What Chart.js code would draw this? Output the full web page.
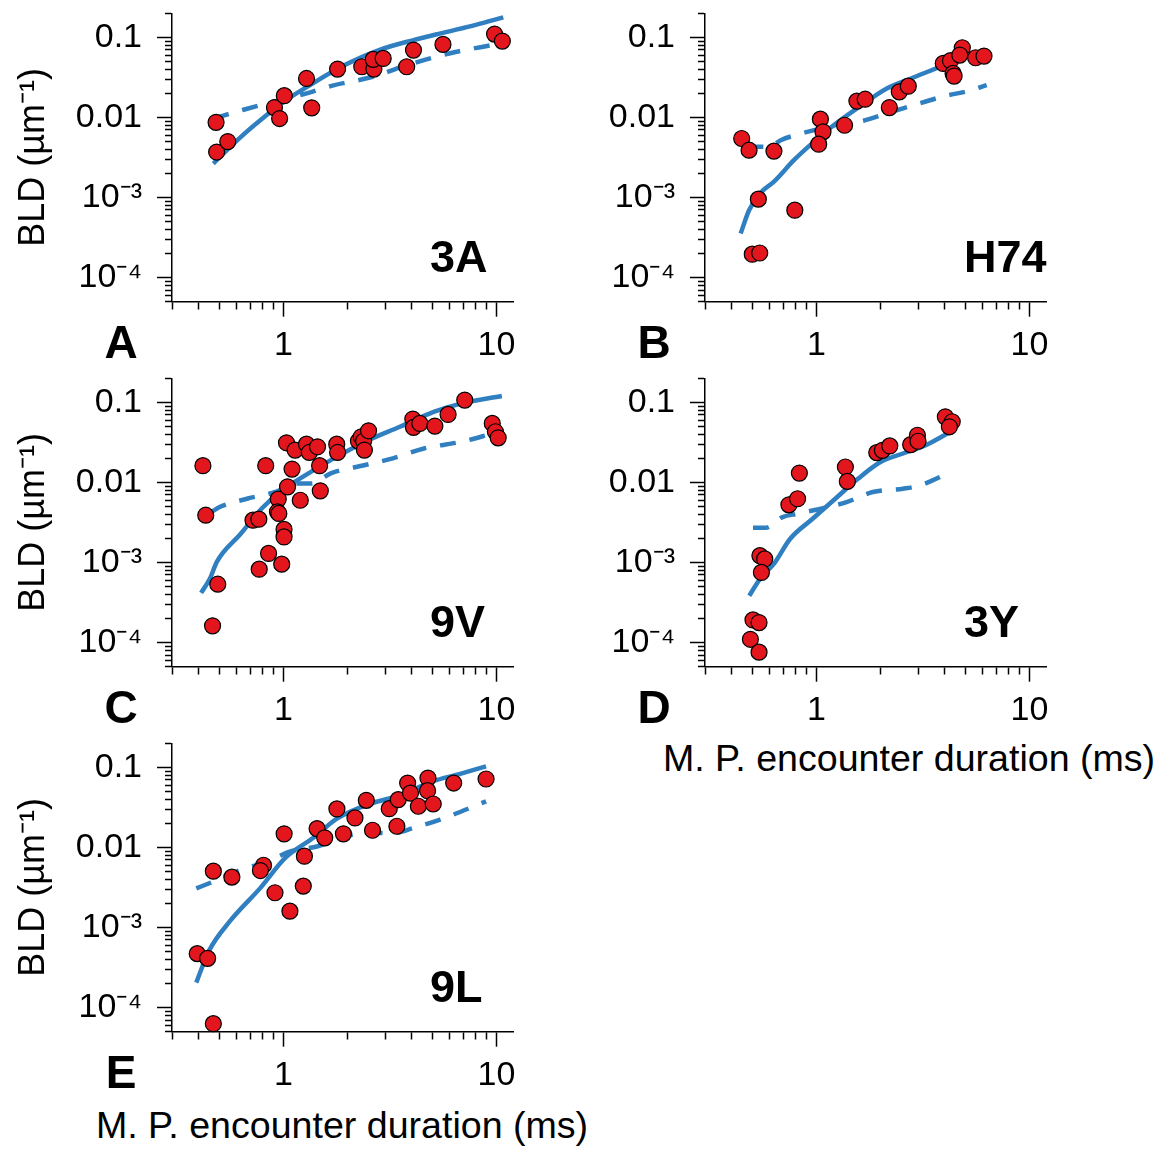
<!DOCTYPE html>
<html>
<head>
<meta charset="utf-8">
<script src="https://cdn.jsdelivr.net/npm/chart.js@4.4.1/dist/chart.umd.min.js"></script>
<style>
  body { margin: 0; background: #fff; }
  #page {
    position: relative; width: 1169px; height: 1156px; overflow: hidden; background: #fff;
    font-family: "Liberation Sans", Arial, sans-serif; color: #000;
  }
  #page canvas { position: absolute; }
  .txt { position: absolute; white-space: nowrap; }
</style>
</head>
<body>
<div id="page">
  <canvas id="chartA" width="540" height="365" style="left:0px;top:0px"></canvas>
  <canvas id="chartB" width="540" height="365" style="left:533px;top:0px"></canvas>
  <canvas id="chartC" width="540" height="365" style="left:0px;top:365px"></canvas>
  <canvas id="chartD" width="540" height="365" style="left:533px;top:365px"></canvas>
  <canvas id="chartE" width="540" height="365" style="left:0px;top:730px"></canvas>
</div>
<script>
/* ================================
   DATA
   dur = M. P. encounter duration (ms), bld = BLD (1/um)
================================ */

// 3A
const A_DUR = [0.483, 0.486, 0.548, 0.908, 0.96, 1.01, 1.284, 1.358, 1.796, 2.333, 2.66, 2.64, 2.94, 3.79, 4.08, 5.61, 9.8, 10.66];
const A_BLD = [0.0087, 0.0037, 0.0050, 0.0133, 0.0097, 0.0187, 0.0307, 0.0132, 0.0402, 0.043, 0.0402, 0.0531, 0.0546, 0.043, 0.0695, 0.0818, 0.110, 0.090];
const A_FIT_DUR = [0.469, 0.632, 0.852, 1.03, 1.333, 1.94, 2.81, 4.08, 5.93, 8.0, 10.77];
const A_FIT_BLD = [0.00266, 0.00573, 0.0112, 0.0165, 0.0254, 0.0451, 0.0695, 0.0926, 0.118, 0.1436, 0.178];
const A_ALT_DUR = [0.469, 0.65, 0.9, 1.24, 1.7, 2.6, 3.8, 6.0, 10.2];
const A_ALT_BLD = [0.0097, 0.0125, 0.0157, 0.0195, 0.025, 0.032, 0.045, 0.063, 0.083];

// H74
const B_DUR = [0.446, 0.483, 0.632, 0.534, 0.5, 0.542, 0.792, 1.044, 1.074, 1.025, 1.356, 1.549, 1.694, 2.2, 2.45, 2.7, 3.94, 4.26, 4.38, 4.43, 4.84, 4.71, 5.59, 6.12];
const B_BLD = [0.00546, 0.0039, 0.0038, 0.000955, 0.000196, 0.000203, 0.000695, 0.00953, 0.00662, 0.00464, 0.0080, 0.016, 0.0169, 0.0133, 0.0209, 0.0246, 0.0473, 0.0512, 0.0355, 0.0329, 0.0743, 0.0602, 0.0557, 0.0584];
const B_FIT_DUR = [0.441, 0.483, 0.547, 0.632, 0.784, 0.972, 1.205, 1.549, 2.14, 2.85, 3.94, 4.23];
const B_FIT_BLD = [0.000355, 0.000695, 0.00115, 0.00158, 0.00293, 0.00496, 0.0080, 0.01296, 0.0230, 0.0316, 0.045, 0.0496];
const B_ALT_DUR = [0.474, 0.60, 0.68, 0.85, 1.2, 1.66, 2.2, 2.7, 4.0, 5.2, 6.3];
const B_ALT_BLD = [0.0043, 0.0043, 0.0052, 0.0063, 0.0079, 0.0091, 0.0115, 0.0136, 0.0185, 0.0215, 0.0254];

// 9V
const C_DUR = [0.419, 0.432, 0.492, 0.465, 0.72, 0.767, 0.826, 0.77, 0.852, 0.982, 0.946, 0.938, 0.952, 1.007, 1.007, 1.034, 1.098, 1.046, 1.135, 1.2, 1.284, 1.323, 1.446, 1.479, 1.49, 1.78, 1.796, 2.25, 2.32, 2.38, 2.4, 2.51, 4.05, 4.08, 4.37, 5.14, 5.93, 7.1, 9.56, 9.89, 10.19];
const C_BLD = [0.0162, 0.0039, 0.000536, 0.000162, 0.00338, 0.00348, 0.0162, 0.000826, 0.0013, 0.000955, 0.0062, 0.0043, 0.0041, 0.00259, 0.00209, 0.0313, 0.0147, 0.00883, 0.0254, 0.006, 0.0301, 0.0237, 0.0279, 0.0162, 0.00787, 0.0301, 0.0237, 0.0329, 0.0372, 0.0329, 0.0254, 0.0442, 0.0619, 0.0487, 0.0546, 0.0506, 0.0708, 0.107, 0.0546, 0.043, 0.0361];
const C_FIT_DUR = [0.411, 0.452, 0.487, 0.632, 0.791, 0.989, 1.237, 1.668, 2.42, 3.52, 5.11, 6.88, 10.6];
const C_FIT_BLD = [0.000418, 0.00063, 0.00102, 0.0023, 0.00473, 0.008, 0.0118, 0.019, 0.0323, 0.0496, 0.0765, 0.0972, 0.12];
const C_ALT_DUR = [0.46, 0.505, 0.681, 0.918, 1.148, 1.358, 1.668, 2.42, 3.26, 4.57, 6.88, 9.65];
const C_ALT_BLD = [0.0043, 0.00497, 0.0063, 0.0076, 0.0097, 0.0097, 0.013, 0.0165, 0.02, 0.0266, 0.0323, 0.041];

// 3Y
const D_DUR = [0.504, 0.538, 0.49, 0.538, 0.543, 0.572, 0.552, 0.743, 0.816, 0.832, 1.368, 1.397, 1.92, 2.04, 2.21, 2.77, 2.98, 3.0, 4.03, 4.34, 4.21];
const D_BLD = [0.000192, 0.000178, 0.00011, 0.000076, 0.00122, 0.00111, 0.000753, 0.00526, 0.00626, 0.0131, 0.0156, 0.0103, 0.0236, 0.0252, 0.0286, 0.0297, 0.0389, 0.0327, 0.066, 0.0573, 0.0496];
const D_FIT_DUR = [0.484, 0.543, 0.638, 0.752, 0.96, 1.226, 1.566, 2.0, 2.55, 3.26, 4.25];
const D_FIT_BLD = [0.000385, 0.000622, 0.001, 0.00197, 0.00352, 0.00626, 0.0111, 0.018, 0.023, 0.0292, 0.0428];
const D_ALT_DUR = [0.504, 0.577, 0.693, 0.816, 1.085, 1.385, 1.84, 2.55, 3.07, 4.34];
const D_ALT_BLD = [0.00271, 0.00271, 0.00369, 0.00407, 0.00479, 0.00569, 0.00759, 0.00836, 0.0092, 0.0138];

// 9L
const E_DUR = [0.394, 0.441, 0.469, 0.469, 0.573, 0.807, 0.78, 0.913, 1.008, 1.073, 1.24, 1.255, 1.439, 1.563, 1.783, 1.913, 2.167, 2.45, 2.62, 3.14, 3.41, 3.46, 3.83, 3.95, 4.3, 4.77, 4.75, 5.05, 6.3, 8.94];
const E_BLD = [0.000472, 0.000412, 0.000063, 0.00506, 0.00426, 0.0060, 0.00515, 0.00272, 0.0148, 0.0016, 0.00329, 0.00778, 0.0172, 0.0132, 0.0303, 0.0148, 0.0234, 0.0388, 0.0164, 0.0305, 0.0184, 0.0396, 0.0638, 0.0478, 0.0327, 0.0736, 0.0512, 0.0349, 0.0638, 0.0716];
const E_FIT_DUR = [0.39, 0.447, 0.561, 0.78, 1.02, 1.392, 1.783, 2.48, 3.6, 5.0, 6.7, 8.94];
const E_FIT_BLD = [0.000205, 0.00051, 0.0012, 0.00313, 0.00741, 0.0134, 0.0229, 0.0343, 0.0457, 0.0669, 0.0826, 0.103];
const E_ALT_DUR = [0.39, 0.475, 0.609, 0.848, 1.086, 1.45, 1.94, 2.48, 3.31, 4.07, 5.44, 8.94];
const E_ALT_BLD = [0.00308, 0.0038, 0.00506, 0.00673, 0.00897, 0.01035, 0.0138, 0.0152, 0.0152, 0.0175, 0.0223, 0.0377];

/* ================================
   AXES
================================ */

const X_MIN = 0.3, X_MAX = 12;
const Y_MIN = 5e-5, Y_MAX = 0.2;

const X_TICKS = [0.3, 0.4, 0.5, 0.6, 0.7, 0.8, 0.9, 1, 2, 3, 4, 5, 6, 7, 8, 9, 10];
const X_MAJOR = [1, 10];
const X_MAJOR_LABELS = ["1", "10"];

const Y_TICKS = [
  5e-5, 6e-5, 7e-5, 8e-5, 9e-5,
  1e-4, 2e-4, 3e-4, 4e-4, 5e-4, 6e-4, 7e-4, 8e-4, 9e-4,
  1e-3, 2e-3, 3e-3, 4e-3, 5e-3, 6e-3, 7e-3, 8e-3, 9e-3,
  0.01, 0.02, 0.03, 0.04, 0.05, 0.06, 0.07, 0.08, 0.09,
  0.1, 0.2
];
const Y_MAJOR = [1e-4, 1e-3, 0.01, 0.1];
const Y_MAJOR_LABELS = ["10\u207B\u2074", "10\u207B\u00B3", "0.01", "0.1"];

const Y_TITLE = "BLD (\u00B5m\u207B\u00B9)";
const X_TITLE = "M. P. encounter duration (ms)";

/* ================================
   STYLE
================================ */

const FONT = "'Liberation Sans', Arial, sans-serif";
const RED = "#e2161c";
const BLUE = "#2f7fc1";

// chart area inside every panel canvas
const AREA_LEFT = 172;
const AREA_TOP = 13.3;
const AREA_RIGHT = 513.3;
const AREA_BOTTOM = 301.7;

const MAJOR_LEN = 15;

function majorIndex(v, list) {
  return list.findIndex(m => Math.abs(v / m - 1) < 1e-6);
}

function toXY(xs, ys) {
  return xs.map((x, i) => ({ x: x, y: ys[i] }));
}

function axisGrid(minorDash) {
  return {
    drawOnChartArea: false,
    drawTicks: true,
    tickLength: MAJOR_LEN,
    tickWidth: 1.5,
    tickColor: "#000",
    tickBorderDash: ctx => (ctx.tick && ctx.tick.major) ? [] : minorDash
  };
}

function makeChart(id, pts, fit, alt, yTitle) {
  const canvas = document.getElementById(id);
  const H = canvas.height;

  return new Chart(canvas, {
    type: "scatter",
    data: {
      datasets: [
        {
          data: toXY(pts[0], pts[1]),
          pointRadius: 8,
          pointBackgroundColor: RED,
          pointBorderColor: "#000",
          pointBorderWidth: 1.2,
          showLine: false,
          clip: false
        },
        {
          data: toXY(fit[0], fit[1]),
          showLine: true,
          borderColor: BLUE,
          borderWidth: 4.5,
          pointRadius: 0,
          cubicInterpolationMode: "monotone",
          clip: false
        },
        {
          data: toXY(alt[0], alt[1]),
          showLine: true,
          borderColor: BLUE,
          borderWidth: 4.5,
          borderDash: [16, 14],
          pointRadius: 0,
          cubicInterpolationMode: "monotone",
          clip: false
        }
      ]
    },
    options: {
      responsive: false,
      animation: false,
      devicePixelRatio: 1,
      layout: { padding: { left: 0, top: AREA_TOP, right: canvas.width - AREA_RIGHT, bottom: 0 } },
      plugins: { legend: { display: false }, tooltip: { enabled: false } },
      scales: {
        x: {
          type: "logarithmic",
          position: "bottom",
          min: X_MIN,
          max: X_MAX,
          afterBuildTicks: s => {
            s.ticks = X_TICKS.map(v => ({ value: v, major: majorIndex(v, X_MAJOR) >= 0 }));
          },
          afterFit: s => {
            s.height = H - AREA_BOTTOM;
            s.paddingLeft = 0;
            s.paddingRight = 0;
          },
          border: { display: true, color: "#000", width: 1.5 },
          grid: axisGrid([7, 100]),
          ticks: {
            autoSkip: false,
            maxRotation: 0,
            padding: 9,
            color: "#000",
            font: { family: FONT, size: 34 },
            callback: v => {
              const k = majorIndex(v, X_MAJOR);
              return k >= 0 ? X_MAJOR_LABELS[k] : "";
            }
          }
        },
        y: {
          type: "logarithmic",
          position: "left",
          min: Y_MIN,
          max: Y_MAX,
          afterBuildTicks: s => {
            s.ticks = Y_TICKS.map(v => ({ value: v, major: majorIndex(v, Y_MAJOR) >= 0 }));
          },
          afterFit: s => {
            s.width = AREA_LEFT;
            s.paddingTop = 0;
            s.paddingBottom = 0;
          },
          border: { display: true, color: "#000", width: 1.5 },
          grid: axisGrid([0, MAJOR_LEN - 7, 7, 100]),
          ticks: {
            autoSkip: false,
            padding: 15,
            color: "#000",
            font: { family: FONT, size: 34 },
            callback: v => {
              const k = majorIndex(v, Y_MAJOR);
              return k >= 0 ? Y_MAJOR_LABELS[k] : "";
            }
          },
          title: {
            display: yTitle,
            text: Y_TITLE,
            color: "#000",
            font: { family: FONT, size: 36 },
            padding: { top: 12, bottom: 0 }
          }
        }
      }
    }
  });
}

makeChart("chartA", [A_DUR, A_BLD], [A_FIT_DUR, A_FIT_BLD], [A_ALT_DUR, A_ALT_BLD], true);
makeChart("chartB", [B_DUR, B_BLD], [B_FIT_DUR, B_FIT_BLD], [B_ALT_DUR, B_ALT_BLD], false);
makeChart("chartC", [C_DUR, C_BLD], [C_FIT_DUR, C_FIT_BLD], [C_ALT_DUR, C_ALT_BLD], true);
makeChart("chartD", [D_DUR, D_BLD], [D_FIT_DUR, D_FIT_BLD], [D_ALT_DUR, D_ALT_BLD], false);
makeChart("chartE", [E_DUR, E_BLD], [E_FIT_DUR, E_FIT_BLD], [E_ALT_DUR, E_ALT_BLD], true);

/* ================================
   PANEL TEXT
================================ */

// place text so that its baseline lands on y (Liberation Sans ascent .905, descent .212)
function addText(str, x, baseline, size, bold, align) {
  const d = document.createElement("div");
  d.className = "txt";
  d.textContent = str;
  d.style.font = (bold ? "bold " : "") + size + "px " + FONT;
  d.style.lineHeight = size + "px";
  d.style.top = (baseline - size * 0.8465) + "px";
  if (align === "center") {
    d.style.left = (x - 300) + "px";
    d.style.width = "600px";
    d.style.textAlign = "center";
  } else {
    d.style.left = x + "px";
  }
  document.getElementById("page").appendChild(d);
}

const PANEL_LETTERS = ["A", "B", "C", "D", "E"];
const PANEL_NAMES = ["3A", "H74", "9V", "3Y", "9L"];
const PANEL_COL = [0, 1, 0, 1, 0];
const PANEL_ROW = [0, 0, 1, 1, 2];

PANEL_LETTERS.forEach((letter, i) => {
  const dx = PANEL_COL[i] * 533;
  const dy = PANEL_ROW[i] * 365;
  addText(letter, 121 + dx, 358 + dy, 46, true, "center");
  addText(PANEL_NAMES[i], 430 + dx + (PANEL_COL[i] ? 1 : 0), 272 + dy, 45, true, "left");
});

// x titles under panels D and E
addText(X_TITLE, 909, 772, 37.6, false, "center");
addText(X_TITLE, 342, 1139, 37.6, false, "center");
</script>
</body>
</html>
